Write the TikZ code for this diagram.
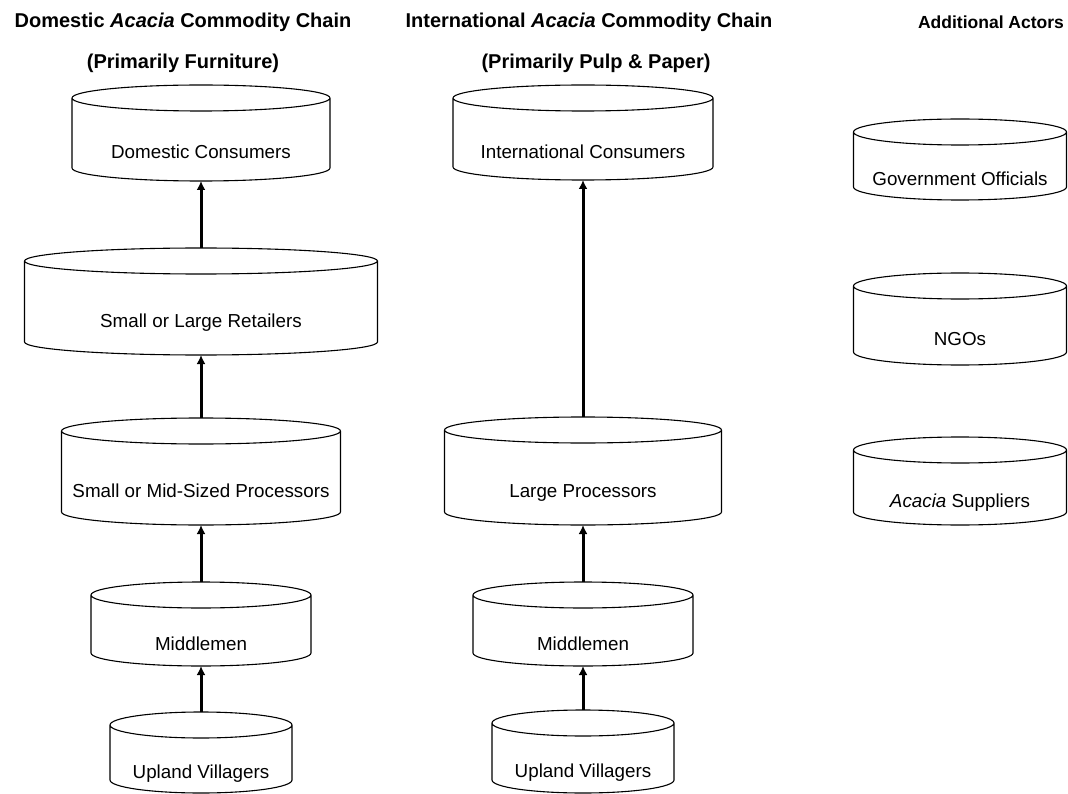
\documentclass[tikz,border=0pt]{standalone}
\usepackage{fontspec}
\setmainfont{Liberation Sans}
\usetikzlibrary{positioning,arrows.meta}

\begin{document}
\begin{tikzpicture}[x=1pt,y=1pt,
    actor/.style 2 args={rectangle, minimum width=#1, minimum height=#2, inner sep=0pt,
                  outer xsep=0pt, outer ysep=13pt, text height=52pt, text depth=0pt,
                  font=\fontsize{18.8}{22}\selectfont,
                  append after command={\pgfextra{
                    \draw[line width=1.1pt]
                      ([yshift=-13pt]\tikzlastnode.north) ellipse [x radius=#1/2, y radius=13pt]
                      ([yshift=-13pt]\tikzlastnode.north west) -- ([yshift=13pt]\tikzlastnode.south west)
                      arc [start angle=180, end angle=360, x radius=#1/2, y radius=13pt]
                      -- ([yshift=-13pt]\tikzlastnode.north east);
                  }}},
    chain title/.style={font=\bfseries\fontsize{20}{24}\selectfont},
    flow/.style={-{Latex[length=9pt,width=9pt]}, line width=3pt}
]
\useasboundingbox (0,0) rectangle (1068,-794);

% Column titles
\node[chain title] (dtitle) at (183,-22) {Domestic \textit{Acacia} Commodity Chain};
\node[chain title] (dsub) at (183,-63) {(Primarily Furniture)};
\node[chain title] (ititle) at (589,-22) {International \textit{Acacia} Commodity Chain};
\node[chain title] (isub) at (596,-63) {(Primarily Pulp \& Paper)};
\node[chain title, font=\bfseries\fontsize{17.5}{21}\selectfont] (atitle) at (991,-22) {Additional Actors};

% Domestic chain
\node[actor={258pt}{70pt}] (dcons) at (201,-133) {Domestic Consumers};
\node[actor={353pt}{81pt}] (dret) at (201,-301.5) {Small or Large Retailers};
\node[actor={279pt}{81pt}] (dproc) at (201,-471.5) {Small or Mid-Sized Processors};
\node[actor={220pt}{58pt}] (dmid) at (201,-624) {Middlemen};
\node[actor={182pt}{55pt}] (dvill) at (201,-752.5) {Upland Villagers};

% International chain
\node[actor={260pt}{69pt}] (icons) at (583,-132.5) {International Consumers};
\node[actor={277pt}{82pt}] (iproc) at (583,-471) {Large Processors};
\node[actor={220pt}{58pt}] (imid) at (583,-624) {Middlemen};
\node[actor={182pt}{57pt}] (ivill) at (583,-751.5) {Upland Villagers};

% Additional actors, not linked
\node[actor={213pt}{55pt}] (gov) at (960,-159.5) {Government Officials};
\node[actor={213pt}{66pt}] (ngo) at (960,-319) {NGOs};
\node[actor={213pt}{62pt}] (asup) at (960,-481) {\textit{Acacia} Suppliers};

% Flows up the chains
\draw[flow] (dvill.north) -- (dmid.south);
\draw[flow] (dmid.north) -- (dproc.south);
\draw[flow] (dproc.north) -- (dret.south);
\draw[flow] (dret.north) -- (dcons.south);
\draw[flow] (ivill.north) -- (imid.south);
\draw[flow] (imid.north) -- (iproc.south);
\draw[flow] (iproc.north) -- (icons.south);

\end{tikzpicture}
\end{document}
